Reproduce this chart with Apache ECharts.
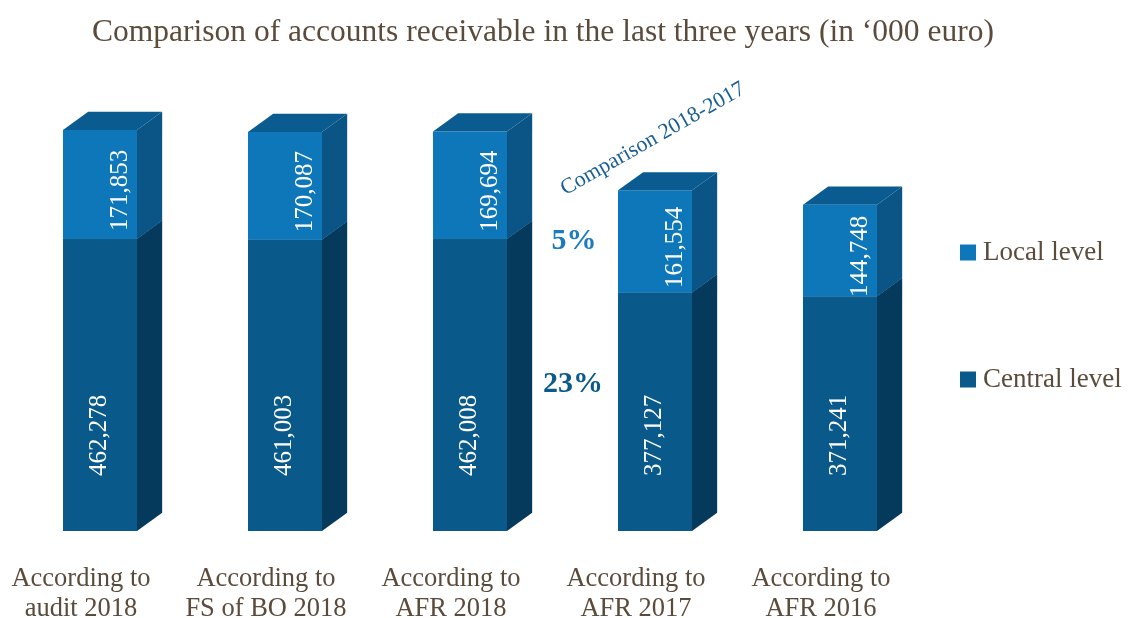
<!DOCTYPE html>
<html>
<head>
<meta charset="utf-8">
<script src="https://cdn.jsdelivr.net/npm/echarts@6/dist/echarts.min.js"></script>
<style>html,body{margin:0;padding:0;background:#fff;}#chart{width:1134px;height:618px;}</style>
</head>
<body>
<div id="chart"></div>
<script>
const categories = ['According to\naudit 2018', 'According to\nFS of BO 2018', 'According to\nAFR 2018', 'According to\nAFR 2017', 'According to\nAFR 2016'];
const centralLevel = [462278, 461003, 462008, 377127, 371241];
const localLevel = [171853, 170087, 169694, 161554, 144748];
const seriesNames = ['Local level', 'Central level'];
const comparisonLabel = 'Comparison 2018-2017';
const comparisonLocal = '5%';
const comparisonCentral = '23%';
const titleText = 'Comparison of accounts receivable in the last three years (in \u2018000 euro)';

const FONT = '"Liberation Serif", "Times New Roman", serif';
const TXT = '#5b4b3b';
const C = {
  localFront: '#0d77ba', localSide: '#0a5586', top: '#0a5c90',
  centralFront: '#09598b', centralSide: '#063a5d'
};
const fmt = v => v.toLocaleString('en-US');

function drawBlock(api, i, lo, hi, front, side, withTop, label, isLocal) {
  const pLo = api.coord([i, lo]);
  const pHi = api.coord([i, hi]);
  const bw = api.size([1, 0])[0] * 0.4;
  const cx = pLo[0];
  const x0 = cx - bw / 2, x1 = cx + bw / 2;
  const dx = bw * 0.34, dy = bw * 0.245;
  const children = [
    { type: 'rect', shape: { x: x0, y: pHi[1], width: bw, height: pLo[1] - pHi[1] }, style: { fill: front } },
    { type: 'polygon', shape: { points: [[x1, pHi[1]], [x1 + dx, pHi[1] - dy], [x1 + dx, pLo[1] - dy], [x1, pLo[1]]] }, style: { fill: side } }
  ];
  if (withTop) {
    children.push({ type: 'polygon', shape: { points: [[x0, pHi[1]], [x0 + dx, pHi[1] - dy], [x1 + dx, pHi[1] - dy], [x1, pHi[1]]] }, style: { fill: C.top } });
  }
  if (isLocal) {
    children.push({ type: 'text', x: cx + bw * 0.28, y: (pLo[1] + pHi[1]) / 2 + 6, rotation: Math.PI / 2,
      style: { text: label, fill: '#fff', font: '25px ' + FONT, align: 'center', verticalAlign: 'middle' } });
  } else {
    children.push({ type: 'text', x: cx - 1, y: pLo[1] - 55, rotation: Math.PI / 2,
      style: { text: label, fill: '#fff', font: '25px ' + FONT, align: 'left', verticalAlign: 'middle' } });
  }
  return { type: 'group', children };
}

const chart = echarts.init(document.getElementById('chart'));
chart.setOption({
  animation: false,
  backgroundColor: '#fff',
  title: {
    text: titleText, left: 538, textAlign: 'center', top: 12,
    textStyle: { fontFamily: FONT, fontWeight: 'normal', fontSize: 31.5, color: TXT }
  },
  legend: {
    orient: 'vertical', left: 955, top: 234, itemGap: 100, itemWidth: 16, itemHeight: 16,
    icon: 'rect', data: seriesNames,
    textStyle: { fontFamily: FONT, fontSize: 27, color: TXT, padding: [0, 0, 0, 2] }
  },
  grid: { left: 7.5, width: 925, top: 88.3, bottom: 87, containLabel: false, outerBoundsMode: 'none' },
  xAxis: {
    type: 'category', data: categories,
    axisLine: { show: false }, axisTick: { show: false },
    axisLabel: { interval: 0, margin: 33, fontFamily: FONT, fontSize: 26.5, lineHeight: 30, color: TXT, padding: [0, 38, 0, 0] }
  },
  yAxis: { type: 'value', min: 0, max: 700000, show: false, splitLine: { show: false } },
  series: [
    {
      name: 'Central level', type: 'custom', itemStyle: { color: C.centralFront },
      data: centralLevel.map((v, i) => [i, v]),
      encode: { x: 0, y: 1 },
      renderItem: (params, api) => {
        const i = api.value(0), v = api.value(1);
        return drawBlock(api, i, 0, v, C.centralFront, C.centralSide, true, fmt(v), false);
      },
      z: 2
    },
    {
      name: 'Local level', type: 'custom', itemStyle: { color: C.localFront },
      data: localLevel.map((v, i) => [i, centralLevel[i] + v, centralLevel[i], v]),
      encode: { x: 0, y: 1 },
      renderItem: (params, api) => {
        const i = api.value(0);
        return drawBlock(api, i, api.value(2), api.value(1), C.localFront, C.localSide, true, fmt(api.value(3)), true);
      },
      z: 3
    }
  ],
  graphic: [
    { type: 'text', x: 653, y: 139, rotation: 0.517,
      style: { text: comparisonLabel, font: '22px ' + FONT, fill: '#1a5f94', align: 'center', verticalAlign: 'middle' } },
    { type: 'text', x: 574, y: 241,
      style: { text: comparisonLocal, font: 'bold 30px ' + FONT, fill: '#1a7bbf', align: 'center', verticalAlign: 'middle' } },
    { type: 'text', x: 573, y: 384,
      style: { text: comparisonCentral, font: 'bold 30px ' + FONT, fill: '#0b5a8c', align: 'center', verticalAlign: 'middle' } }
  ]
});
</script>
</body>
</html>
